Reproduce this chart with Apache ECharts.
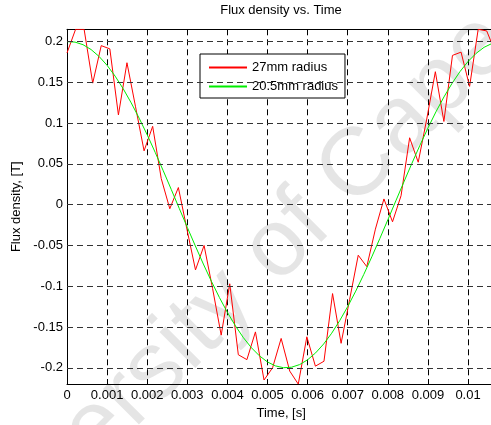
<!DOCTYPE html>
<html><head><meta charset="utf-8">
<script src="https://cdn.jsdelivr.net/npm/echarts@6/dist/echarts.min.js"></script>
<style>html,body{margin:0;padding:0;overflow:hidden;background:#fff}#c{width:520px;height:425px}</style>
</head><body><div id="c"></div>
<script>
const titleText = 'Flux density vs. Time';
const xName = 'Time, [s]';
const yName = 'Flux density, [T]';
const seriesNames = ['27mm radius', '20.5mm radius'];
const watermarkText = 'University of Cape Town';
const yTicks = [-0.2, -0.15, -0.1, -0.05, 0, 0.05, 0.1, 0.15, 0.2];

const redTime = [0, 0.000214, 0.000427, 0.000641, 0.000854, 0.001068, 0.001282, 0.001495, 0.001709, 0.001922,
  0.002136, 0.00235, 0.002563, 0.002777, 0.00299, 0.003204, 0.003418, 0.003631, 0.003845, 0.004058,
  0.004272, 0.004486, 0.004699, 0.004913, 0.005126, 0.00534, 0.005554, 0.005767, 0.005981, 0.006194,
  0.006408, 0.006622, 0.006835, 0.007049, 0.007262, 0.007476, 0.00769, 0.007903, 0.008117, 0.00833,
  0.008544, 0.008758, 0.008971, 0.009185, 0.009398, 0.009612, 0.009826, 0.010039, 0.010253, 0.010466, 0.01068];
const redFlux = [0.186, 0.215, 0.215, 0.149, 0.195, 0.191, 0.110, 0.174, 0.120, 0.066,
  0.096, 0.032, -0.005, 0.021, -0.030, -0.080, -0.050, -0.103, -0.160, -0.097,
  -0.184, -0.190, -0.156, -0.215, -0.200, -0.164, -0.204, -0.220, -0.162, -0.198,
  -0.192, -0.109, -0.170, -0.116, -0.062, -0.076, -0.030, 0.007, -0.021, 0.011,
  0.082, 0.052, 0.105, 0.163, 0.102, 0.183, 0.187, 0.145, 0.215, 0.213, 0.187];

const greenTime = [0, 0.0002, 0.0004, 0.0006, 0.0008, 0.001, 0.0012, 0.0014, 0.0016, 0.0018,
  0.002, 0.0022, 0.0024, 0.0026, 0.0028, 0.003, 0.0032, 0.0034, 0.0036, 0.0038,
  0.004, 0.0042, 0.0044, 0.0046, 0.0048, 0.005, 0.0052, 0.0054, 0.0056, 0.0058,
  0.006, 0.0062, 0.0064, 0.0066, 0.0068, 0.007, 0.0072, 0.0074, 0.0076, 0.0078,
  0.008, 0.0082, 0.0084, 0.0086, 0.0088, 0.009, 0.0092, 0.0094, 0.0096, 0.0098,
  0.01, 0.0102, 0.0104, 0.0106, 0.01068];
const greenFlux = [0.1999, 0.1993, 0.1961, 0.1902, 0.1817, 0.1708, 0.1576, 0.1422, 0.1249, 0.1060,
  0.0856, 0.0640, 0.0416, 0.0186, -0.0047, -0.0278, -0.0506, -0.0728, -0.0939, -0.1138,
  -0.1321, -0.1486, -0.1632, -0.1755, -0.1854, -0.1929, -0.1977, -0.1999, -0.1993, -0.1961,
  -0.1902, -0.1817, -0.1708, -0.1576, -0.1422, -0.1249, -0.1060, -0.0856, -0.0640, -0.0416,
  -0.0186, 0.0047, 0.0278, 0.0506, 0.0728, 0.0939, 0.1138, 0.1321, 0.1486, 0.1632,
  0.1755, 0.1854, 0.1929, 0.1977, 0.1998];

const xMin = 0, xMax = 0.01068, xStep = 0.001;
const yMin = -0.22, yMax = 0.215;

const FONT = '"Liberation Sans", Arial, Helvetica, sans-serif';
const chart = echarts.init(document.getElementById('c'), null, {renderer: 'canvas'});
const fmt = v => String(parseFloat(Number(v).toFixed(4)));
const dashV = {color: '#000', width: 1, type: [6, 4]};
const dashH = {color: '#333', width: 1, type: [6, 4]};

chart.setOption({
  animation: false,
  backgroundColor: '#fff',
  textStyle: {fontFamily: FONT},
  title: {
    text: titleText, left: 281, top: 4, textAlign: 'center', padding: 0,
    textStyle: {fontSize: 13, fontWeight: 'normal', color: '#000', fontFamily: FONT}
  },
  graphic: [{
    type: 'text', x: 308, y: 218, rotation: Math.PI / 4, z: -1, silent: true,
    style: {text: watermarkText, fontSize: 96, fontFamily: FONT, fill: 'rgba(0,0,0,0.1)', align: 'center', verticalAlign: 'middle'}
  }],
  grid: {left: 67, right: 520 - 495.3, top: 29.3, bottom: 425 - 386, containLabel: false},
  legend: {
    left: 200, top: 54, orient: 'vertical',
    padding: [7, 7, 5, 8], itemGap: 6, itemWidth: 38, itemHeight: 14,
    backgroundColor: '#fff', borderColor: '#000', borderWidth: 1, borderRadius: 0,
    itemStyle: {opacity: 0},
    textStyle: {fontSize: 13, color: '#000', fontFamily: FONT},
    data: seriesNames
  },
  xAxis: [{
    type: 'value', min: xMin, max: xMax, interval: xStep,
    name: xName, nameLocation: 'middle', nameGap: 21,
    nameTextStyle: {fontSize: 13, color: '#000', fontFamily: FONT},
    axisLine: {show: true, onZero: false, lineStyle: {color: '#000', width: 1}},
    axisTick: {show: true, inside: true, length: 5, lineStyle: {color: '#000'}},
    axisLabel: {fontSize: 13, color: '#000', margin: 5, formatter: fmt, showMaxLabel: false, fontFamily: FONT},
    splitLine: {show: true, lineStyle: dashV}
  }, {
    type: 'value', position: 'top', min: xMin, max: xMax, interval: xStep,
    axisLine: {show: true, onZero: false, lineStyle: {color: '#000', width: 1}},
    axisTick: {show: true, inside: true, length: 5, lineStyle: {color: '#000'}},
    axisLabel: {show: false}, splitLine: {show: false}
  }],
  yAxis: [{
    type: 'value', min: yMin, max: yMax,
    name: yName, nameLocation: 'middle', nameGap: 41, nameRotate: 90,
    nameTextStyle: {fontSize: 13, color: '#000', fontFamily: FONT},
    axisLine: {show: true, onZero: false, lineStyle: {color: '#000', width: 1}},
    axisTick: {show: true, inside: true, length: 5, lineStyle: {color: '#000'}, customValues: yTicks},
    axisLabel: {fontSize: 13, color: '#000', margin: 4, formatter: fmt, fontFamily: FONT, customValues: yTicks},
    splitLine: {show: false}
  }],
  series: [{
    name: 'grid', type: 'line', data: [], z: 1, silent: true,
    markLine: {
      silent: true, symbol: ['none', 'none'], animation: false,
      label: {show: false}, lineStyle: dashH, emphasis: {disabled: true},
      data: yTicks.map(v => ({yAxis: v}))
    }
  }, {
    name: seriesNames[0], type: 'line', xAxisIndex: 0, showSymbol: false, symbol: 'none',
    lineStyle: {color: '#ff0000', width: 1}, itemStyle: {color: '#ff0000'},
    data: redTime.map((t, i) => [t, redFlux[i]]), z: 3
  }, {
    name: seriesNames[1], type: 'line', xAxisIndex: 0, showSymbol: false, symbol: 'none',
    lineStyle: {color: '#00ee00', width: 1}, itemStyle: {color: '#00ee00'},
    data: greenTime.map((t, i) => [t, greenFlux[i]]), z: 4
  }]
});
</script></body></html>
